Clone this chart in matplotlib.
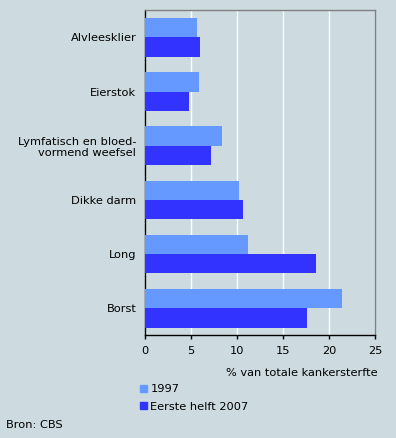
import matplotlib
matplotlib.use("Agg")
import matplotlib.pyplot as plt
import numpy as np

categories = ["Alvleesklier", "Eierstok", "Lymfatisch en bloed-\nvormend weefsel",
              "Dikke darm", "Long", "Borst"]
values_1997 = [5.7, 5.9, 8.4, 10.2, 11.2, 21.4]
values_2007 = [6.0, 4.8, 7.2, 10.7, 18.6, 17.6]
series_names = ["1997", "Eerste helft 2007"]
xticks = [0, 5, 10, 15, 20, 25]

BG = "#CDDBE0"
C1 = "#6699FF"
C2 = "#3333FF"
FS = 8.2

plt.rcParams['font.family'] = ['DejaVu Sans']
fig = plt.figure(figsize=(3.96, 4.38), dpi=100, facecolor=BG)
ax = fig.add_axes([144.7/396, 1-335.3/438, 230.6/396, 325.0/438], facecolor=BG)

y = np.arange(len(categories))
h = 0.357
ax.barh(y - h/2, values_1997, height=h, color=C1, label=series_names[0], zorder=3)
ax.barh(y + h/2, values_2007, height=h, color=C2, label=series_names[1], zorder=3)

ax.set_ylim(len(categories) - 0.5, -0.5)
ax.set_xlim(0, 25)
ax.set_xticks(xticks)
ax.set_xticklabels([str(t) for t in xticks], fontsize=FS)
ax.set_yticks(y)
ax.set_yticklabels(categories, fontsize=FS, linespacing=1.1)
ax.tick_params(axis='y', length=0, pad=6)
ax.tick_params(axis='x', length=3, width=1, direction='out', pad=5, colors='black')
ax.xaxis.grid(True, color='white', linewidth=1, zorder=1)
ax.set_axisbelow(True)
for s in ['top', 'right']:
    ax.spines[s].set_color('#808080')
    ax.spines[s].set_linewidth(1)
for s in ['left', 'bottom']:
    ax.spines[s].set_color('black')
    ax.spines[s].set_linewidth(1)

fig.text(378/396, 1-373/438, "% van totale kankersterfte", ha='right', va='center', fontsize=FS)

# legend
handles = [plt.Rectangle((0, 0), 1, 1, color=C1), plt.Rectangle((0, 0), 1, 1, color=C2)]
leg = fig.legend(handles, series_names, loc='upper left', bbox_to_anchor=(139.5/396, 1-384.5/438),
                 frameon=False, fontsize=FS, handlelength=0.65, handleheight=0.65,
                 handletextpad=0.3, labelspacing=0.62, borderaxespad=0, borderpad=0)

fig.text(6/396, 1-425/438, "Bron: CBS", ha='left', va='center', fontsize=FS)

fig.savefig("out.png", dpi=100, facecolor=BG)
